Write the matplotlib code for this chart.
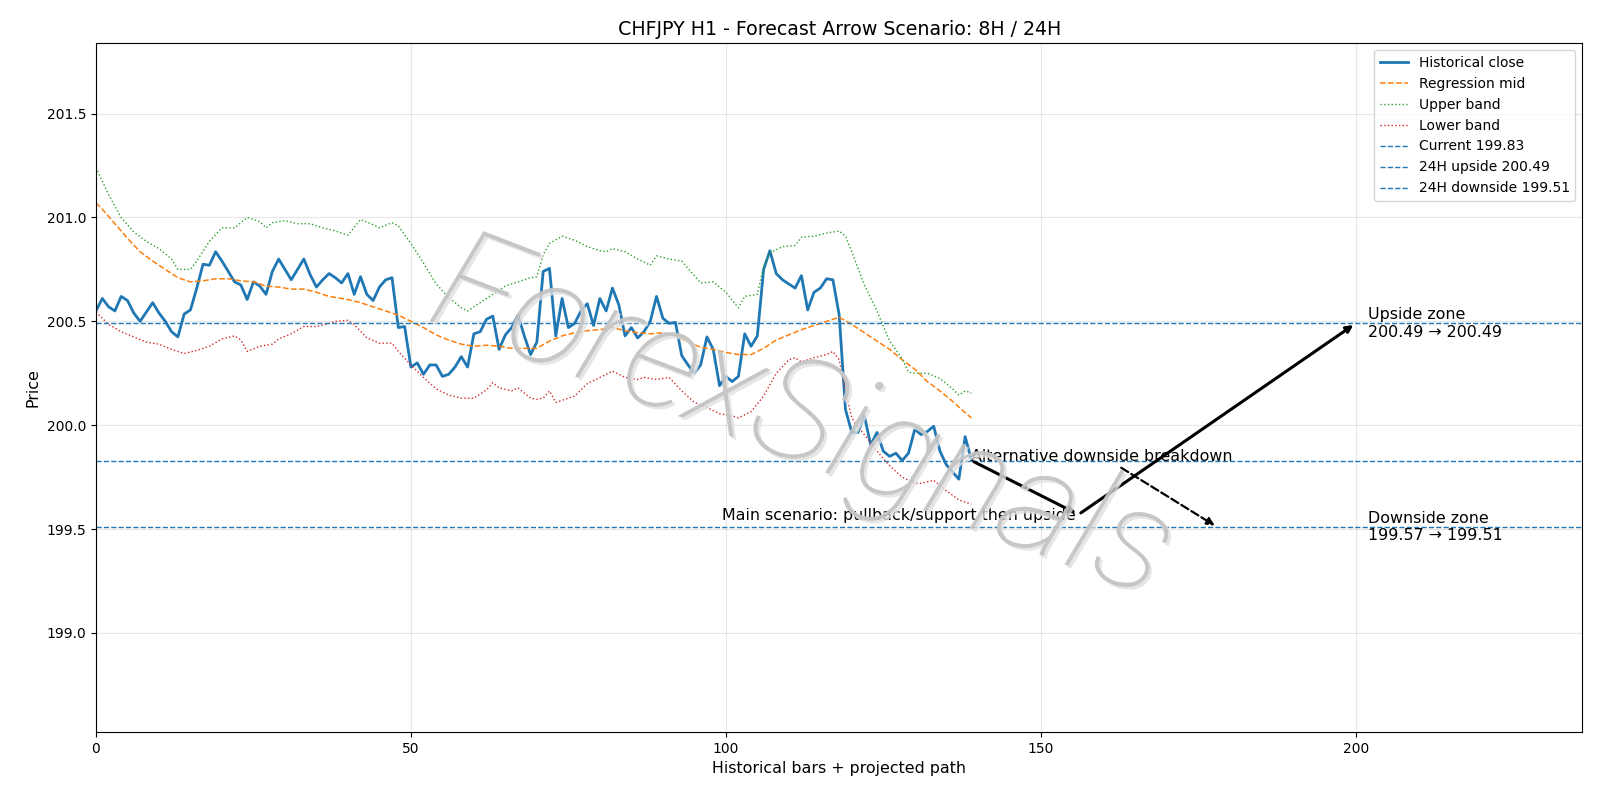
import matplotlib
matplotlib.use("Agg")
import matplotlib.pyplot as plt
import matplotlib.patheffects as pe

# ---- data ----
close = [200.55, 200.61, 200.57, 200.55, 200.62, 200.60, 200.54, 200.50, 200.545, 200.59,
         200.54, 200.50, 200.45, 200.425, 200.535, 200.555, 200.66, 200.775, 200.77, 200.835,
         200.79, 200.74, 200.69, 200.675, 200.605, 200.69, 200.67, 200.63, 200.74, 200.80,
         200.75, 200.70, 200.75, 200.80, 200.725, 200.665, 200.70, 200.73, 200.71, 200.685,
         200.73, 200.63, 200.715, 200.63, 200.60, 200.665, 200.70, 200.71, 200.47, 200.475,
         200.28, 200.30, 200.245, 200.29, 200.29, 200.235, 200.245, 200.28, 200.33, 200.28,
         200.44, 200.45, 200.51, 200.525, 200.365, 200.435, 200.47, 200.53, 200.43, 200.34,
         200.40, 200.74, 200.755, 200.43, 200.61, 200.47, 200.49, 200.55, 200.585, 200.48,
         200.61, 200.55, 200.66, 200.58, 200.43, 200.47, 200.42, 200.45, 200.50, 200.62,
         200.515, 200.49, 200.495, 200.335, 200.29, 200.25, 200.29, 200.425, 200.365, 200.19,
         200.235, 200.21, 200.235, 200.44, 200.38, 200.43, 200.75, 200.84, 200.73, 200.70,
         200.68, 200.66, 200.72, 200.555, 200.64, 200.66, 200.705, 200.70, 200.53, 200.075,
         199.965, 199.965, 200.045, 199.905, 199.965, 199.875, 199.85, 199.865, 199.83, 199.865,
         199.98, 199.955, 199.97, 199.995, 199.875, 199.81, 199.775, 199.74, 199.945, 199.83]

mid_x = [0, 1, 3, 5, 7, 9, 11, 13, 15, 17, 19, 21, 23, 25, 27, 29, 31, 33, 35, 37, 40, 42, 44,
         46, 48, 50, 52, 54, 56, 58, 60, 62, 64, 66, 68, 70, 72, 74, 76, 78, 80, 82, 84, 86, 88,
         90, 92, 94, 96, 98, 100, 102, 104, 106, 108, 110, 112, 114, 116, 118, 120, 122, 124,
         126, 128, 130, 132, 134, 136, 138, 139]
mid_y = [201.07, 201.04, 200.97, 200.90, 200.835, 200.79, 200.75, 200.71, 200.69, 200.695,
         200.705, 200.705, 200.695, 200.69, 200.67, 200.665, 200.655, 200.655, 200.64, 200.62,
         200.605, 200.59, 200.57, 200.55, 200.53, 200.50, 200.47, 200.435, 200.41, 200.39,
         200.38, 200.385, 200.38, 200.37, 200.37, 200.37, 200.405, 200.43, 200.445, 200.455,
         200.46, 200.47, 200.455, 200.445, 200.44, 200.445, 200.43, 200.40, 200.375, 200.365,
         200.35, 200.34, 200.34, 200.37, 200.41, 200.435, 200.46, 200.48, 200.50, 200.52,
         200.485, 200.445, 200.405, 200.365, 200.315, 200.27, 200.21, 200.165, 200.115, 200.06,
         200.035]

up_x = [0, 2, 4, 6, 8, 10, 12, 13, 15, 16, 18, 20, 22, 24, 26, 27, 28, 30, 32, 34, 36, 38, 40,
        42, 44, 45, 47, 48, 50, 52, 54, 56, 58, 59, 61, 63, 65, 67, 69, 70, 71, 72, 74, 76, 78,
        80, 81, 82, 84, 86, 88, 89, 91, 93, 95, 96, 98, 100, 102, 103, 105, 106, 107, 109, 111,
        112, 114, 116, 118, 119, 120, 122, 124, 126, 128, 129, 130, 132, 134, 136, 137, 138, 139]
up_y = [201.24, 201.11, 201.00, 200.93, 200.885, 200.85, 200.80, 200.75, 200.75, 200.79,
        200.885, 200.95, 200.95, 201.00, 200.98, 200.95, 200.975, 200.985, 200.97, 200.97,
        200.95, 200.935, 200.915, 200.99, 200.965, 200.95, 200.975, 200.96, 200.875, 200.78,
        200.68, 200.615, 200.565, 200.55, 200.59, 200.63, 200.67, 200.69, 200.71, 200.715,
        200.82, 200.875, 200.91, 200.89, 200.86, 200.84, 200.835, 200.85, 200.835, 200.80,
        200.77, 200.815, 200.80, 200.79, 200.72, 200.685, 200.69, 200.64, 200.565, 200.62,
        200.63, 200.765, 200.83, 200.86, 200.865, 200.905, 200.91, 200.925, 200.935, 200.91,
        200.835, 200.675, 200.55, 200.405, 200.32, 200.255, 200.25, 200.25, 200.225, 200.175,
        200.145, 200.165, 200.155]

lo_x = [0, 2, 4, 6, 8, 10, 12, 14, 16, 18, 20, 22, 23, 24, 26, 28, 29, 31, 33, 35, 37, 38, 40,
        41, 43, 45, 47, 48, 50, 52, 54, 56, 58, 60, 62, 63, 64, 66, 67, 69, 70, 71, 72, 73, 75,
        76, 78, 80, 82, 83, 84, 86, 87, 89, 91, 93, 95, 97, 99, 101, 102, 104, 106, 107, 108,
        110, 111, 112, 114, 116, 117, 118, 119, 120, 121, 122, 124, 126, 128, 130, 131, 133,
        135, 137, 139]
lo_y = [200.545, 200.485, 200.45, 200.425, 200.40, 200.39, 200.365, 200.345, 200.36, 200.38,
        200.415, 200.43, 200.41, 200.355, 200.38, 200.39, 200.415, 200.44, 200.475, 200.475,
        200.49, 200.50, 200.505, 200.485, 200.42, 200.395, 200.395, 200.355, 200.29, 200.23,
        200.175, 200.145, 200.13, 200.13, 200.17, 200.205, 200.18, 200.165, 200.18, 200.13,
        200.125, 200.13, 200.165, 200.11, 200.13, 200.14, 200.20, 200.23, 200.26, 200.245,
        200.23, 200.22, 200.23, 200.22, 200.23, 200.165, 200.11, 200.085, 200.055, 200.045,
        200.035, 200.065, 200.14, 200.195, 200.25, 200.315, 200.325, 200.305, 200.325, 200.34,
        200.355, 200.315, 200.165, 200.035, 199.99, 199.955, 199.875, 199.805, 199.75, 199.72,
        199.72, 199.735, 199.685, 199.64, 199.62]

current = 199.83
upside = 200.49
downside = 199.51
pullback = 199.57
path_x = [139, 156, 200]
path_y = [current, pullback, upside]
alt_target = (178, downside)

TXT = 11.4

# ---- plot ----
fig = plt.figure(figsize=(16, 8), dpi=100)
ax = fig.add_axes([0.06, 0.085, 0.929, 0.861])

ax.plot(range(len(close)), close, color="tab:blue", lw=2.0, label="Historical close")
ax.plot(mid_x, mid_y, color="tab:orange", ls="--", lw=1.1, label="Regression mid")
ax.plot(up_x, up_y, color="tab:green", ls=":", lw=1.0, label="Upper band")
ax.plot(lo_x, lo_y, color="tab:red", ls=":", lw=1.0, label="Lower band")
ax.axhline(current, color="tab:blue", ls="--", lw=1.0, label=f"Current {current:.2f}")
ax.axhline(upside, color="tab:blue", ls="--", lw=1.0, label=f"24H upside {upside:.2f}")
ax.axhline(downside, color="tab:blue", ls="--", lw=1.0, label=f"24H downside {downside:.2f}")

# main scenario arrows
ax.annotate("", xy=(path_x[1], path_y[1]), xytext=(path_x[0], path_y[0]),
            arrowprops=dict(arrowstyle="-|>", color="black", lw=2.2))
ax.annotate("", xy=(path_x[2], path_y[2]), xytext=(path_x[1], path_y[1]),
            arrowprops=dict(arrowstyle="-|>", color="black", lw=2.2))
ax.text(155.6, 199.545, "Main scenario: pullback/support then upside",
        ha="right", va="baseline", fontsize=TXT)

# alternative
ax.annotate("Alternative downside breakdown", xy=alt_target, xytext=(path_x[0], current),
            fontsize=TXT,
            arrowprops=dict(arrowstyle="-|>", color="black", lw=1.6, ls="--"))

ax.text(202, upside, f"Upside zone\n{upside:.2f} \u2192 {upside:.2f}", va="center", fontsize=TXT)
ax.text(202, downside, f"Downside zone\n{pullback:.2f} \u2192 {downside:.2f}", va="center", fontsize=TXT)

# watermark
ax.text(0.475, 0.45, "ForexSignals", transform=ax.transAxes, fontsize=104, rotation=-21,
        ha="center", va="center", color="#c4c4c4", alpha=0.75, zorder=5,
        family=["Roboto", "DejaVu Sans"], fontweight="light", style="italic",
        path_effects=[pe.withSimplePatchShadow(offset=(2, -2), shadow_rgbFace="#e0e0e0", alpha=0.8),
                      pe.Normal()])

ax.set_xlim(0, 236)
ax.set_ylim(198.523, 201.839)
ax.grid(True, alpha=0.3)
ax.set_title("CHFJPY H1 - Forecast Arrow Scenario: 8H / 24H", fontsize=13.7)
ax.set_xlabel("Historical bars + projected path", fontsize=TXT)
ax.set_ylabel("Price", fontsize=TXT)
ax.legend(loc="upper right")

fig.savefig("out.png", dpi=100)
